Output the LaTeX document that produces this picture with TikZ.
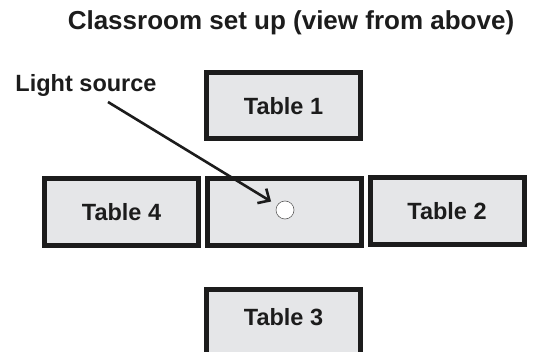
\documentclass[tikz,border=0pt]{standalone}
\usepackage{fontspec}
\setmainfont{Liberation Sans}
\usetikzlibrary{arrows.meta}
\definecolor{ink}{HTML}{1C1C1C}
\definecolor{deskfill}{HTML}{E5E6E8}
\begin{document}
\begin{tikzpicture}[x=1pt,y=-1pt,
  desk/.style={draw=ink, line width=5pt, fill=deskfill, minimum width=154pt,
    minimum height=66pt, inner sep=0pt, text=ink,
    font=\fontsize{23.5}{28}\selectfont\bfseries},
  caption/.style={text=ink, inner sep=0pt},
  pointer/.style={draw=ink, line width=2.6pt, shorten >=7pt,
    -{Straight Barb[length=9pt,width=17pt,line width=2.6pt]}}]
  \useasboundingbox (0,0) rectangle (534,352);
  \begin{scope}
    \clip (0,0) rectangle (534,352);
    % room title
    \node[caption, font=\fontsize{26}{30}\selectfont\bfseries] (title) at (291,23)
      {Classroom set up (view from above)};
    % tables seen from above
    \node[desk] (t1) at (283.5,106) {Table 1};
    \node[desk] (t4) at (121.5,212) {Table 4};
    \node[desk] (mid) at (284,212) {};
    \node[desk] (t2) at (447,211) {Table 2};
    \node[desk] (t3) at (283.5,322) {\raisebox{10pt}{Table 3}};
    % lamp on the middle table
    \node[circle, draw=ink!70, line width=0.6pt, fill=white,
      minimum size=18pt, inner sep=0pt] (lamp) at (285,210) {};
    % label and pointer
    \node[caption, font=\fontsize{23.5}{28}\selectfont\bfseries] (ls) at (86,85)
      {Light source};
    \coordinate (tail) at (108,102);
    \draw[pointer] (tail) -- (lamp);
  \end{scope}
\end{tikzpicture}
\end{document}
